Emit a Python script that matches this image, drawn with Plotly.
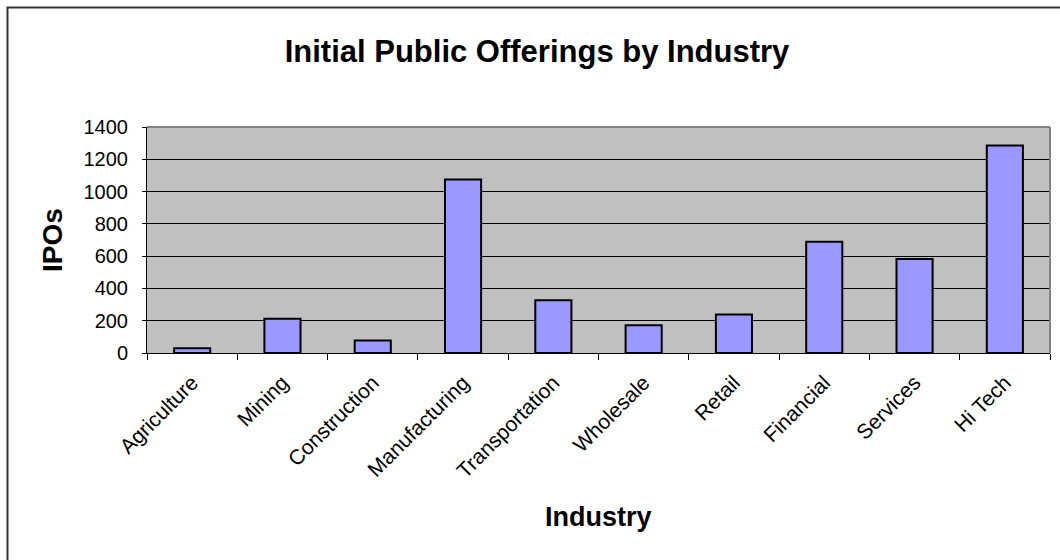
import plotly.graph_objects as go

industries = ["Agriculture", "Mining", "Construction", "Manufacturing", "Transportation",
              "Wholesale", "Retail", "Financial", "Services", "Hi Tech"]
ipos = [30, 212, 77, 1075, 327, 172, 238, 689, 582, 1285]
y_ticks = [0, 200, 400, 600, 800, 1000, 1200, 1400]

FONT = "Liberation Sans, Arial, sans-serif"

fig = go.Figure(go.Bar(
    x=industries, y=ipos,
    marker=dict(color="#9999FF", line=dict(color="black", width=2)),
    width=0.4,
))

L, R, T, B = 147, 10, 127, 207
W, H = 1060, 560
pw, ph = W - L - R, H - T - B

def px_x(p):
    return (p - L) / pw

def px_y(p):
    return (H - B - p) / ph

fig.update_layout(
    width=W, height=H,
    margin=dict(l=L, r=R, t=T, b=B, autoexpand=False),
    paper_bgcolor="white",
    plot_bgcolor="#C0C0C0",
    showlegend=False,
    title=dict(text="<b>Initial Public Offerings by Industry</b>",
               font=dict(family=FONT, size=31, color="black"),
               x=537 / W, xanchor="center", xref="container", y=1 - 51 / H, yanchor="middle"),
    font=dict(family=FONT, size=19, color="black"),
    xaxis=dict(
        type="category",
        tickangle=-45,
        tickfont=dict(family=FONT, size=21, color="black"),
        ticks="outside", ticklen=6, tickcolor="black", tickson="boundaries",
        ticklabelstandoff=8,
        showline=True, linecolor="black", linewidth=1,
        showgrid=False,
        automargin=False,
    ),
    yaxis=dict(
        range=[0, 1400],
        tickvals=y_ticks,
        tickfont=dict(family=FONT, size=20, color="black"),
        ticks="outside", ticklen=4, tickcolor="black",
        ticklabelstandoff=10,
        showline=True, linecolor="black", linewidth=1,
        showgrid=True, gridcolor="black", gridwidth=1,
        zeroline=False,
        automargin=False,
    ),
    annotations=[
        dict(text="<b>Industry</b>", xref="paper", yref="paper",
             x=px_x(598), y=px_y(517), xanchor="center", yanchor="middle",
             showarrow=False, font=dict(family=FONT, size=27, color="black")),
        dict(text="<b>IPOs</b>", xref="paper", yref="paper",
             x=px_x(52), y=px_y(240), xanchor="center", yanchor="middle",
             textangle=-90, showarrow=False, font=dict(family=FONT, size=28, color="black")),
    ],
    shapes=[
        dict(type="line", xref="paper", yref="paper", x0=0, x1=1, y0=1, y1=1,
             line=dict(color="#808080", width=2), layer="above"),
        dict(type="line", xref="paper", yref="paper", x0=1, x1=1, y0=0, y1=1,
             line=dict(color="#808080", width=2), layer="above"),
        dict(type="rect", xref="paper", yref="paper",
             x0=px_x(7.5), x1=px_x(1065), y0=px_y(7.5), y1=px_y(565),
             line=dict(color="#333333", width=2), fillcolor="rgba(0,0,0,0)", layer="above"),
    ],
)

fig.write_html("out.html")
